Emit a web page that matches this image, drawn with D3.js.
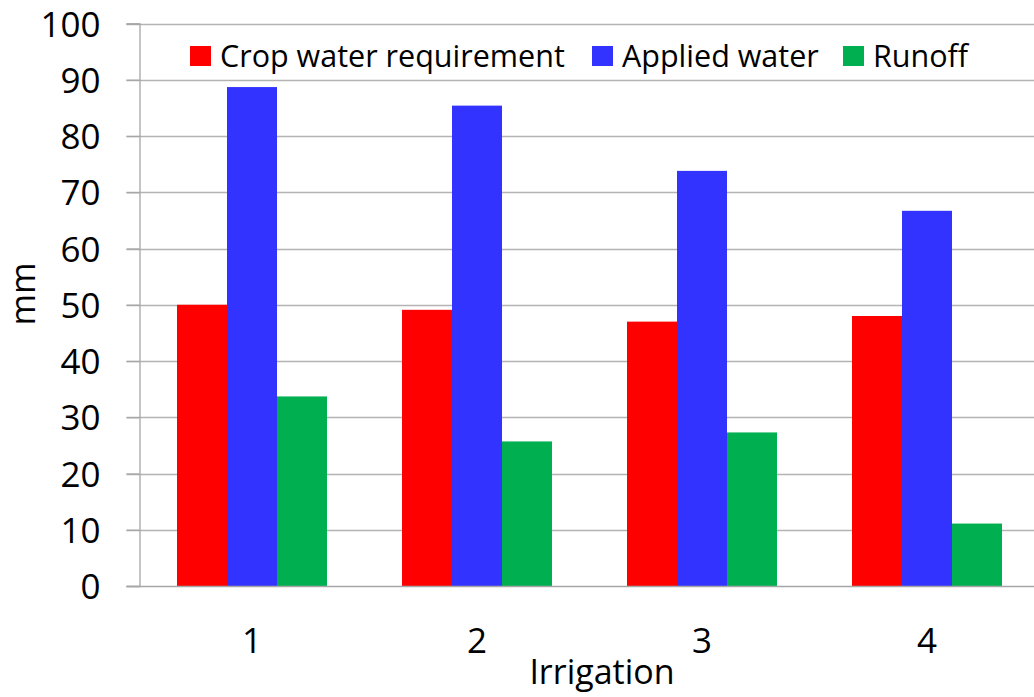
<!DOCTYPE html>
<html>
<head>
<meta charset="utf-8">
<script src="https://cdn.jsdelivr.net/npm/d3@7"></script>
<style>
  html, body { margin: 0; padding: 0; background: #fff; }
  text { font-family: "Open Sans", Lato, sans-serif; fill: #000; font-variant-ligatures: none; }
</style>
</head>
<body>
<div id="chart"></div>
<script>
// data
var categories = ["1", "2", "3", "4"];
var seriesNames = ["Crop water requirement", "Applied water", "Runoff"];
var cropWater = [50.0, 49.1, 47.0, 48.0];
var appliedWater = [88.7, 85.4, 73.8, 66.7];
var runoff = [33.7, 25.7, 27.3, 11.1];
var yTicks = [0, 10, 20, 30, 40, 50, 60, 70, 80, 90, 100];
var colors = ["#ff0000", "#3333ff", "#00b050"];

var width = 1034, height = 697;
var plotLeft = 139.5, plotRight = 1039.5, plotTop = 23.5, plotBottom = 586;

var svg = d3.select("#chart").append("svg")
  .attr("width", width).attr("height", height)

var x = d3.scaleBand().domain(categories).range([plotLeft, plotRight]).padding(0)
var xs = d3.scaleBand().domain(seriesNames).range([37.5, 187.5]).padding(0)
var y = d3.scaleLinear().domain([0, 100]).range([plotBottom, plotTop])

//网格线
svg.append("g").attr("class", "grid")
  .selectAll("line").data(yTicks.filter(d => d > 0)).enter()
  .append("line")
  .attr("x1", plotLeft - 13).attr("x2", width)
  .attr("y1", d => Math.round(y(d)) + 0.5).attr("y2", d => Math.round(y(d)) + 0.5)
  .attr("stroke", "#b3b3b3").attr("stroke-width", 1.3)

// y axis
var yAxis = svg.append("g")
  .attr("transform", "translate(" + plotLeft + ",0)")
  .call(d3.axisLeft(y).tickValues(yTicks).tickSize(13).tickPadding(26))
yAxis.select(".domain").attr("stroke", "#a6a6a6").attr("stroke-width", 1.3)
yAxis.selectAll(".tick line").attr("stroke", "#a6a6a6").attr("stroke-width", 1.3)
yAxis.selectAll(".tick text").style("font-size", "35px").attr("dy", "0.36em")

// bars
var rows = categories.map((c, i) => ({
  cat: c,
  values: [cropWater[i], appliedWater[i], runoff[i]]
}))
var groups = svg.append("g").selectAll("g").data(rows).enter()
  .append("g")
  .attr("transform", d => "translate(" + x(d.cat) + ",0)")
groups.selectAll("rect")
  .data(d => d.values.map((v, j) => ({ name: seriesNames[j], v: v, j: j })))
  .enter().append("rect")
  .attr("x", d => xs(d.name))
  .attr("width", xs.bandwidth())
  .attr("y", d => y(d.v))
  .attr("height", d => y(0) - y(d.v))
  .attr("fill", d => colors[d.j])

// x axis
var xAxis = svg.append("g")
  .attr("transform", "translate(0," + plotBottom + ")")
  .call(d3.axisBottom(x).tickSize(0).tickPadding(40))
xAxis.select(".domain").remove()
svg.append("line")
  .attr("x1", plotLeft - 13).attr("x2", width)
  .attr("y1", plotBottom + 0.5).attr("y2", plotBottom + 0.5)
  .attr("stroke", "#a6a6a6").attr("stroke-width", 1.3)
xAxis.selectAll(".tick text").style("font-size", "35px")
  .attr("dy", "0.36em").attr("y", 54)

// axis titles
svg.append("text")
  .attr("x", 602).attr("y", 684)
  .attr("text-anchor", "middle")
  .style("font-size", "34px")
  .text("Irrigation")
svg.append("text")
  .attr("transform", "translate(35,294) rotate(-90)")
  .attr("text-anchor", "middle")
  .style("font-size", "34px")
  .text("mm")

// legend
var legendX = [190, 592, 843];
var legend = svg.append("g").selectAll("g").data(seriesNames).enter()
  .append("g")
  .attr("transform", (d, i) => "translate(" + legendX[i] + ",46)")
legend.append("rect")
  .attr("width", 21).attr("height", 20)
  .attr("fill", (d, i) => colors[i])
legend.append("text")
  .attr("x", 30).attr("y", 20.5)
  .style("font-size", "30.5px")
  .text(d => d)
</script>
</body>
</html>
